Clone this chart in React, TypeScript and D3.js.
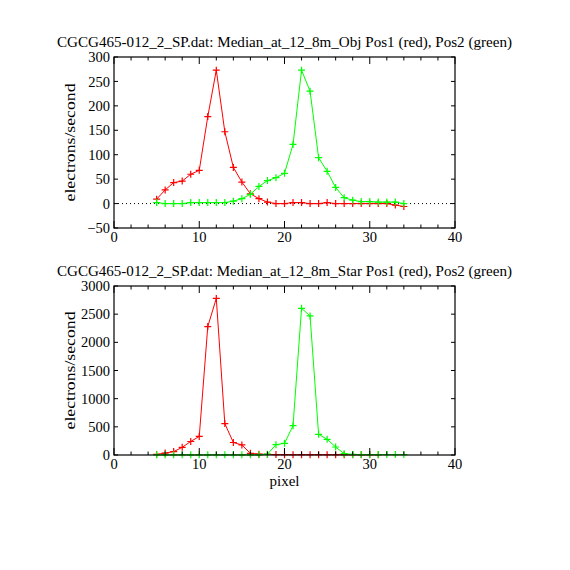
import React from 'react';
import * as d3 from 'd3';

// pixel positions
const pixTop = d3.range(5, 35);
const pixBotRed = d3.range(5, 32);
const pixBotGreen = d3.range(5, 35);

// Obj panel (top)
const objPos1 = [9, 28, 43, 46, 60, 68, 178, 273, 147, 74, 44, 20, 10, 3, 0, 0, 2, 2, 0, 0, 2, 0, 0, 0, 0, 0, 0, 0, -3, -6];
const objPos2 = [2, 0, 0, 0, 2, 2, 2, 2, 2, 5, 10, 19, 35, 47, 53, 62, 121, 273, 230, 94, 66, 33, 12, 7, 4, 4, 3, 3, 3, 0];

// Star panel (bottom)
const starPos1 = [10, 35, 60, 136, 240, 330, 2280, 2780, 557, 222, 178, 30, 15, 10, 8, 6, 5, 5, 5, 5, 5, 5, 5, 5, 5, 5, 5];
const starPos2 = [3, 3, 3, 3, 3, 3, 3, 3, 3, 3, 3, 3, 3, 15, 183, 207, 520, 2604, 2468, 367, 279, 142, 23, 10, 8, 8, 8, 8, 8, 8];

const xTicks = [0, 10, 20, 30, 40];
const xMinor = d3.range(0, 41, 2);
const objTicks = [-50, 0, 50, 100, 150, 200, 250, 300];
const starTicks = [0, 500, 1000, 1500, 2000, 2500, 3000];

const FONT = '"Liberation Serif", serif';
const LEFT = 114;
const RIGHT = 455;

type Series = { xs: number[]; ys: number[]; color: string };

function Panel(props: {
  top: number;
  bottom: number;
  domain: [number, number];
  yTicks: number[];
  title: string;
  series: Series[];
  zeroLine?: boolean;
  xlabel?: string;
}) {
  const { top, bottom, domain, yTicks, title, series, zeroLine, xlabel } = props;
  const x = d3.scaleLinear().domain([0, 40]).range([LEFT, RIGHT]);
  const y = d3.scaleLinear().domain(domain).range([bottom, top]);
  const line = d3.line<[number, number]>().x(d => x(d[0])).y(d => y(d[1]));

  return (
    <g>
      <text x={(LEFT + RIGHT) / 2} y={top - 10} textAnchor="middle" fontFamily={FONT} fontSize={14}
        textLength={455} lengthAdjust="spacingAndGlyphs">{title}</text>
      {zeroLine && (
        <line x1={LEFT} x2={RIGHT} y1={y(0)} y2={y(0)} stroke="#000" strokeWidth={1} strokeDasharray="1,3" />
      )}
      {series.map((s, i) => {
        const pts = s.xs.map((v, j) => [v, s.ys[j]] as [number, number]);
        return (
          <g key={i}>
            <path d={line(pts) || ''} fill="none" stroke={s.color} strokeWidth={1} />
            {pts.map((p, j) => (
              <path key={j} d={`M${x(p[0]) - 3.5},${y(p[1])}h7M${x(p[0])},${y(p[1]) - 3.5}v7`}
                stroke={s.color} strokeWidth={1.2} />
            ))}
          </g>
        );
      })}
      <rect x={LEFT} y={top} width={RIGHT - LEFT} height={bottom - top} fill="none" stroke="#000" strokeWidth={1.2} />
      {xMinor.map(t => {
        const major = t % 10 === 0;
        const len = major ? 7 : 3.5;
        return (
          <g key={t}>
            <line x1={x(t)} x2={x(t)} y1={bottom} y2={bottom - len} stroke="#000" />
            <line x1={x(t)} x2={x(t)} y1={top} y2={top + len} stroke="#000" />
          </g>
        );
      })}
      {xTicks.map(t => (
        <text key={t} x={x(t)} y={bottom + 14} textAnchor="middle" fontFamily={FONT} fontSize={14.5}>{t}</text>
      ))}
      {yTicks.map(t => (
        <g key={t}>
          <line x1={LEFT} x2={LEFT + 4} y1={y(t)} y2={y(t)} stroke="#000" />
          <line x1={RIGHT} x2={RIGHT - 4} y1={y(t)} y2={y(t)} stroke="#000" />
          <text x={LEFT - 4} y={y(t)} dy="0.35em" textAnchor="end" fontFamily={FONT} fontSize={14.5}>
            {t < 0 ? '\u2212' + Math.abs(t) : t}
          </text>
        </g>
      ))}
      <text transform={`translate(75,${(top + bottom) / 2}) rotate(-90)`} textAnchor="middle"
        fontFamily={FONT} fontSize={14.5} textLength={118} lengthAdjust="spacingAndGlyphs">electrons/second</text>
      {xlabel && (
        <text x={(LEFT + RIGHT) / 2} y={bottom + 31} textAnchor="middle" fontFamily={FONT} fontSize={15}>{xlabel}</text>
      )}
    </g>
  );
}

export default function App() {
  return (
    <svg width={570} height={570} style={{ position: 'absolute', left: 0, top: 0, background: '#fff' }}>
      <rect width={570} height={570} fill="#fff" />
      <Panel top={57} bottom={228} domain={[-50, 300]} yTicks={objTicks} zeroLine
        title="CGCG465-012_2_SP.dat: Median_at_12_8m_Obj Pos1 (red), Pos2 (green)"
        series={[
          { xs: pixTop, ys: objPos1, color: '#ff0000' },
          { xs: pixTop, ys: objPos2, color: '#00ff00' },
        ]} />
      <Panel top={286} bottom={455} domain={[0, 3000]} yTicks={starTicks} xlabel="pixel"
        title="CGCG465-012_2_SP.dat: Median_at_12_8m_Star Pos1 (red), Pos2 (green)"
        series={[
          { xs: pixBotRed, ys: starPos1, color: '#ff0000' },
          { xs: pixBotGreen, ys: starPos2, color: '#00ff00' },
        ]} />
    </svg>
  );
}
